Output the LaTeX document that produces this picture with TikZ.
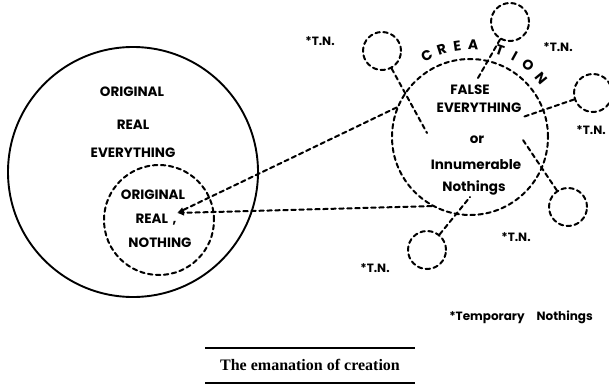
\documentclass[tikz,border=0pt]{standalone}
\usepackage{fontspec}
\setsansfont{Poppins}
\setmainfont{Liberation Serif}
\usetikzlibrary{arrows.meta,calc}

\tikzset{
    dashline/.style={draw,line width=2pt,line cap=round,dash pattern=on 4.5pt off 3.5pt},
    tnring/.style={dashline,circle,minimum size=38pt,inner sep=0pt},
    word/.style={inner sep=0pt,font=\sffamily\bfseries\fontsize{13.5}{15}\selectfont},
    tnword/.style={inner sep=0pt,font=\sffamily\bfseries\fontsize{12}{14}\selectfont},
}

\begin{document}
\begin{tikzpicture}[x=1pt,y=-1pt,
        >={Latex[length=7pt,width=6pt]} % Pfeilspitzen
        ]
    \useasboundingbox (0,0) rectangle (609,385);

    % Kreise
    \node (EV) [draw,line width=1.9pt,circle,minimum size=250pt,inner sep=0pt] at (133,172) {};
    \node (NO) [dashline,circle,minimum size=110pt,inner sep=0pt] at (159,220) {};
    \node (CR) [dashline,circle,minimum size=156pt,inner sep=0pt] at (470,137) {};

    % Temporary Nothings
    \node (T1) [tnring] at (382,51)  {};
    \node (T2) [tnring] at (510,22)  {};
    \node (T3) [tnring] at (593,93)  {};
    \node (T4) [tnring] at (568,207) {};
    \node (T5) [tnring] at (427,250) {};

    \coordinate (s1) at (427,133);
    \coordinate (s2) at (478,78);
    \coordinate (s3) at (523,117);
    \coordinate (s4) at (523,140);
    \coordinate (s5) at (470,197);
    \draw [dashline] (T1) -- (s1);
    \draw [dashline] (T2) -- (s2);
    \draw [dashline] (T3) -- (s3);
    \draw [dashline] (T4) -- (s4);
    \draw [dashline] (T5) -- (s5);

    % Emanation
    \coordinate (tip) at (177,213);
    \draw [dashline,->] (CR.158) -- (tip);
    \draw [dashline,->] (CR.241) -- (tip);

    % Beschriftung
    \node (ev1) [word] at (132,92)  {ORIGINAL};
    \node (ev2) [word] at (133,125) {REAL};
    \node (ev3) [word] at (133,153) {EVERYTHING};
    \node (no1) [word] at (153,195) {ORIGINAL};
    \node (no2) [word] at (156,220) {REAL\,\,,};
    \node (no3) [word] at (160,243) {NOTHING};

    \node (cr1) [word] at (470,90)  {FALSE};
    \node (cr2) [word] at (479,108) {EVERYTHING};
    \node (cr3) [word] at (477,140) {or};
    \node (cr4) [word] at (476,165) {Innumerable};
    \node (cr5) [word] at (474,188) {Nothings};

    \foreach \ch/\ang in {C/118,R/108,E/98,A/88,T/71,I/61,O/51,N/39.5}
        \node [inner sep=0pt,font=\sffamily\bfseries\fontsize{14}{15}\selectfont,rotate=\ang-90]
            at ($(CR.center)+(-\ang:92)$) {\ch};

    \node (tn1) [tnword] at (320,41)  {*T.N.};
    \node (tn2) [tnword] at (558,47)  {*T.N.};
    \node (tn3) [tnword] at (591,130) {*T.N.};
    \node (tn4) [tnword] at (516,237) {*T.N.};
    \node (tn5) [tnword] at (375,268) {*T.N.};
    \node (key) [tnword] at (521,317) {*Temporary\quad Nothings};

    % Bildunterschrift
    \coordinate (r1) at (205,348);
    \coordinate (r2) at (415,348);
    \coordinate (r3) at (205,383);
    \coordinate (r4) at (415,383);
    \draw [line width=1.2pt] (r1) -- (r2);
    \draw [line width=1.2pt] (r3) -- (r4);
    \node (cap) [inner sep=0pt,font=\rmfamily\bfseries\fontsize{16}{18}\selectfont] at (310,365) {The emanation of creation};

\end{tikzpicture}
\end{document}
